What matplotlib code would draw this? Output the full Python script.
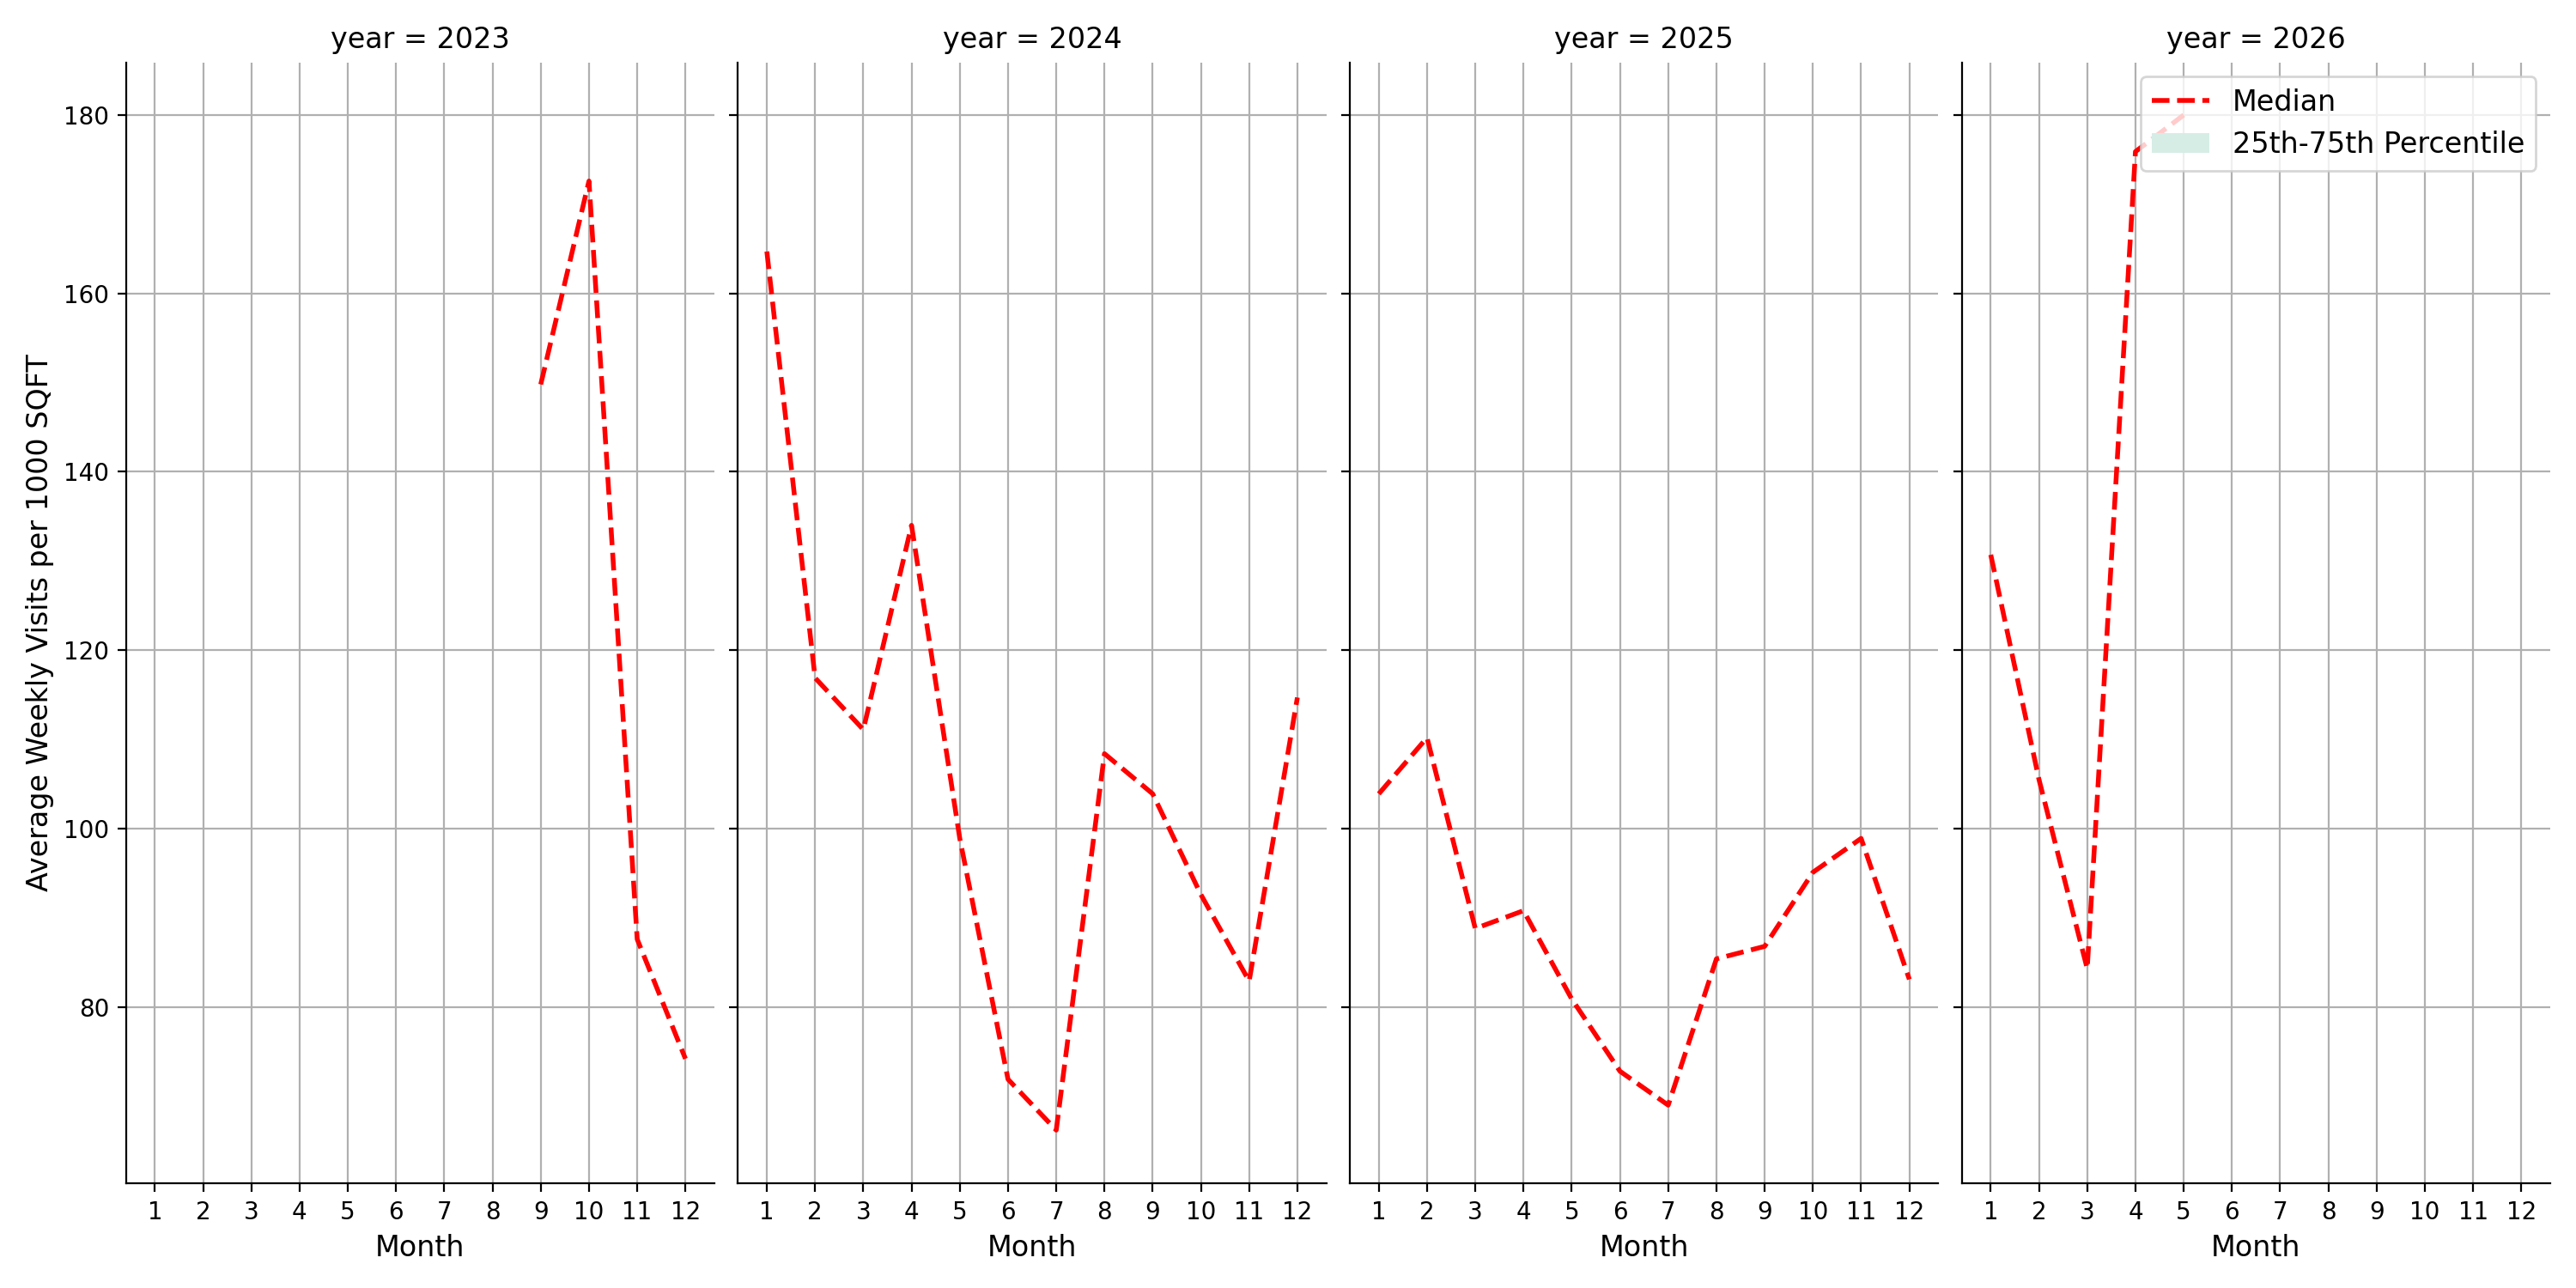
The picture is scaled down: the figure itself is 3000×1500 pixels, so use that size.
import numpy as np
import matplotlib
matplotlib.use("Agg")
import matplotlib.pyplot as plt
from matplotlib.patches import Patch
from matplotlib.lines import Line2D

# ============================================================
# DATA
# ============================================================
years = [2023, 2024, 2025, 2026]
months = list(range(1, 13))

months_2023 = [9, 10, 11, 12]
median_2023 = [149.8, 172.6, 87.6, 74.2]

months_2024 = months
median_2024 = [164.7, 116.9, 111.1, 134.0, 98.9, 71.9, 66.2, 108.4, 103.9, 92.6, 82.9, 114.7]

months_2025 = months
median_2025 = [103.9, 110.2, 88.8, 90.8, 80.9, 72.8, 69.0, 85.4, 86.8, 95.1, 98.9, 83.1]

months_2026 = [1, 2, 3, 4, 5]
median_2026 = [130.7, 105.5, 84.3, 175.9, 180.0]

series = {
    2023: (months_2023, median_2023),
    2024: (months_2024, median_2024),
    2025: (months_2025, median_2025),
    2026: (months_2026, median_2026),
}

# ============================================================
# PLOT
# ============================================================
fig, axes = plt.subplots(1, 4, figsize=(15, 7.5), dpi=200, sharey=True)

for ax, yr in zip(axes, years):
    x, y = series[yr]
    ax.plot(x, y, "r--", lw=2)
    ax.set_title(f"year = {yr}", fontsize=12)
    ax.set_xlabel("Month", fontsize=12)
    ax.set_xticks(months)
    ax.set_xlim(0.4, 12.6)
    ax.tick_params(labelsize=10)
    ax.grid(True, color="#b0b0b0", lw=0.8)
    ax.set_axisbelow(True)
    for s in ["top", "right"]:
        ax.spines[s].set_visible(False)

axes[0].set_ylim(60.2, 185.9)
axes[0].set_yticks([80, 100, 120, 140, 160, 180])
axes[0].set_ylabel("Average Weekly Visits per 1000 SQFT", fontsize=12)

handles = [Line2D([], [], color="red", ls="--", lw=2),
           Patch(facecolor="#d6ede6", edgecolor="none")]
axes[-1].legend(handles, ["Median", "25th-75th Percentile"],
                loc="upper right", fontsize=12)

plt.tight_layout()
plt.subplots_adjust(wspace=0.04)
plt.savefig("out.png")
plt.close()
